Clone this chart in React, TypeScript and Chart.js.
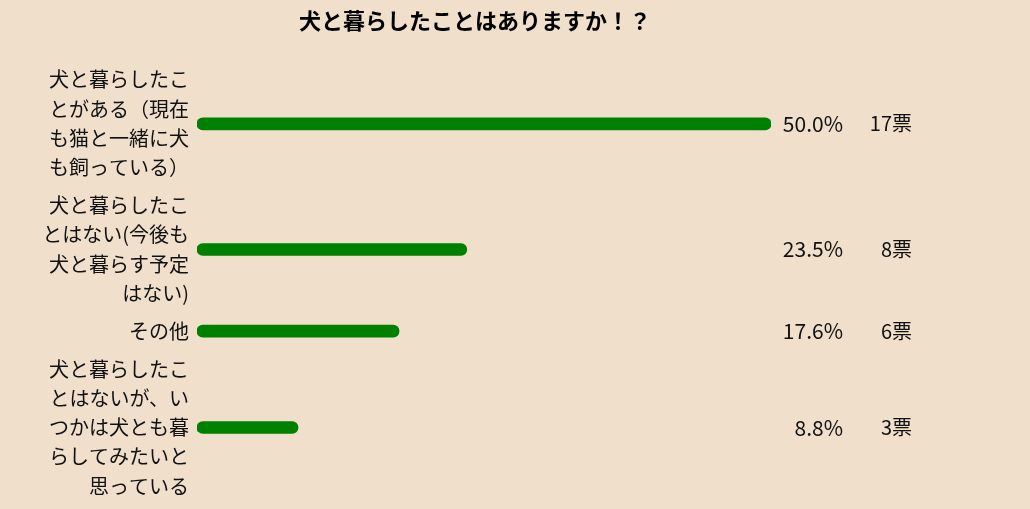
import Chart from "chart.js/auto";
import type { Chart as ChartJS, Plugin } from "chart.js";
import { useEffect, useRef } from "react";

const chartTitle = "犬と暮らしたことはありますか！？";

// 回答（改行位置は元の表示どおり）
const answerLabels: string[][] = [
  ["犬と暮らしたこ", "とがある（現在", "も猫と一緒に犬", "も飼っている）"],
  ["犬と暮らしたこ", "とはない(今後も", "犬と暮らす予定", "はない)"],
  ["その他"],
  ["犬と暮らしたこ", "とはないが、い", "つかは犬とも暮", "らしてみたいと", "思っている"],
];
const percentValues = [50.0, 23.5, 17.6, 8.8];
const voteCounts = [17, 8, 6, 3];

const FONT = "'Noto Sans CJK JP', 'Noto Sans', sans-serif";
const BG = "#f0dfca";
const BAR = "#008000";
const TEXT = "#111111";
const LINE_H = 29.3;
const ROW_GAP = 8.5;

// 行の高さはラベルの行数で決まる
const rowCenters: number[] = [];
let cursor = 0;
answerLabels.forEach((lines) => {
  const h = lines.length * LINE_H + ROW_GAP;
  rowCenters.push(cursor + h / 2);
  cursor += h;
});
const totalHeight = cursor;

const labelPlugin: Plugin<"bar"> = {
  id: "rowLabels",
  afterDatasetsDraw(chart) {
    const { ctx, chartArea, scales } = chart;
    ctx.save();
    ctx.fillStyle = TEXT;
    ctx.textBaseline = "middle";
    ctx.textAlign = "right";
    rowCenters.forEach((c, i) => {
      const y = scales.y.getPixelForValue(c);
      const lines = answerLabels[i];
      ctx.font = `20px ${FONT}`;
      lines.forEach((line, j) => {
        ctx.fillText(line, chartArea.left - 8, y + (j - (lines.length - 1) / 2) * LINE_H);
      });
      ctx.fillText(`${voteCounts[i]}票`, chartArea.right + 141, y);
      ctx.font = `21px ${FONT}`;
      ctx.fillText(`${percentValues[i].toFixed(1)}%`, chartArea.right + 72, y);
    });
    ctx.font = `bold 22px ${FONT}`;
    ctx.textAlign = "center";
    ctx.fillStyle = "#000";
    ctx.fillText(chartTitle, 475, 21);
    ctx.restore();
  },
};

export default function App() {
  const chartRef = useRef<HTMLCanvasElement>(null);
  const chartInstance = useRef<ChartJS | null>(null);

  useEffect(() => {
    document.body.style.margin = "0";
    document.body.style.background = BG;
    if (!chartRef.current) return;
    chartInstance.current?.destroy();

    chartInstance.current = new Chart(chartRef.current, {
      type: "bar",
      data: {
        datasets: [
          {
            data: percentValues.map((v, i) => ({ x: v, y: rowCenters[i] })),
            backgroundColor: BAR,
            barThickness: 12,
            borderRadius: 6,
            borderSkipped: false,
          },
        ],
      },
      options: {
        indexAxis: "y",
        animation: false,
        responsive: true,
        maintainAspectRatio: false,
        layout: { padding: { top: 61, bottom: 4, right: 259, left: 197 } },
        plugins: {
          legend: { display: false },
          tooltip: { enabled: false },
          title: { display: false },
        },
        scales: {
          x: { type: "linear", min: 0, max: 50, display: false },
          y: {
            type: "linear",
            reverse: true,
            offset: false,
            min: 0,
            max: totalHeight,
            display: false,
          },
        },
      },
      plugins: [labelPlugin],
    });

    return () => {
      chartInstance.current?.destroy();
    };
  }, []);

  return (
    <div style={{ position: "relative", width: 1030, height: 509, background: BG }}>
      <canvas ref={chartRef}></canvas>
    </div>
  );
}
